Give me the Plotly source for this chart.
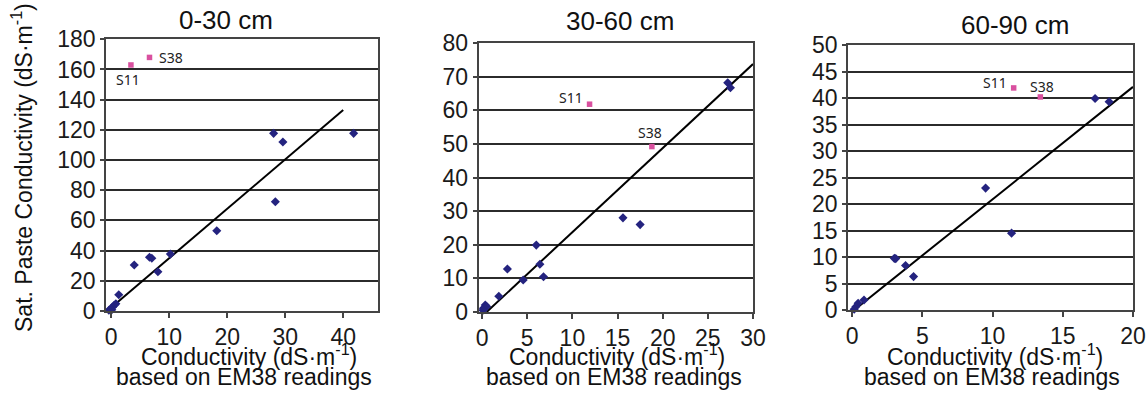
import plotly.graph_objects as go

# ---------------- data ----------------
panel_titles = ["0-30 cm", "30-60 cm", "60-90 cm"]

p1_blue_x = [28.0, 29.6, 41.8, 28.3, 18.2, 10.2, 6.6, 7.0, 8.05, 3.97, 1.3, 0.8, 0.5, 0.2, -0.1, -0.4, 0.1]
p1_blue_y = [117.7, 112, 117.7, 72.4, 53.2, 37.7, 35.6, 34.9, 26, 30.5, 10.8, 4.8, 3.8, 2.5, 1.4, 0.5, 0.8]
p1_pink_x = [3.4, 6.6]
p1_pink_y = [163, 168]
p1_fit = dict(slope=3.27, intercept=2.3, x0=-0.7, x1=40.0)

p2_blue_x = [27.2, 27.5, 15.6, 17.5, 6.0, 6.4, 6.8, 4.55, 2.8, 1.85, 0.35, 0.15, 0.5, 0.1]
p2_blue_y = [68.2, 66.7, 28, 26, 19.9, 14.2, 10.5, 9.5, 12.8, 4.7, 2.1, 1.1, 1.6, 0.5]
p2_pink_x = [11.9, 18.8]
p2_pink_y = [61.8, 49.2]
p2_fit = dict(slope=2.5, intercept=-1.25, x0=0.5, x1=30.0)

p3_blue_x = [17.3, 18.3, 9.5, 11.35, 3.0, 3.1, 3.8, 4.37, 0.84, 0.42, 0.26, 0.14]
p3_blue_y = [39.9, 39.3, 23, 14.5, 9.75, 9.7, 8.4, 6.3, 1.9, 1.26, 0.6, 0.13]
p3_pink_x = [11.5, 13.4]
p3_pink_y = [41.9, 40.2]
p3_fit = dict(slope=2.12, intercept=-0.3, x0=0.14, x1=20.0)

pink_labels = ["S11", "S38"]

x_ranges = [[-0.9, 46], [-0.4, 30], [-0.3, 20]]
x_dticks = [10, 5, 5]
y_ranges = [[0, 180], [0, 80], [0, 50]]
y_dticks = [20, 10, 5]

y_title = "Sat. Paste Conductivity (dS·m<sup>-1</sup>)"
x_title_1 = "Conductivity (dS·m<sup>-1</sup>)"
x_title_2 = "based on EM38 readings"

# ---------------- layout geometry (pixels) ----------------
W, H = 1146, 403
x_dom_px = [(106, 378), (478.5, 753), (848, 1133)]
y_dom_px = [(39.3, 311), (43, 312), (45, 310)]
title_pos_px = [(226, 20), (620, 21), (1015, 25)]
xt1_pos_px = [(249, 355), (617, 355), (995, 355)]
xt2_pos_px = [(244, 377), (614, 377), (992, 377)]
label_shifts = [[(-3, -15), (21, 0)], [(-19, 7), (-2, 14)], [(-19, 5), (2, 10)]]

FONT = "Liberation Sans, Arial, sans-serif"
BLUE = "#24237f"
PINK = "#d9509f"
GRID = "#2b2b2b"

panels = [
    (p1_blue_x, p1_blue_y, p1_pink_x, p1_pink_y, p1_fit),
    (p2_blue_x, p2_blue_y, p2_pink_x, p2_pink_y, p2_fit),
    (p3_blue_x, p3_blue_y, p3_pink_x, p3_pink_y, p3_fit),
]

fig = go.Figure()
annotations = []

for i, (bx, by, px, py, fit) in enumerate(panels):
    n = "" if i == 0 else str(i + 1)
    xa, ya = "x" + n, "y" + n
    # regression line
    lx = [fit["x0"], fit["x1"]]
    ly = [fit["slope"] * v + fit["intercept"] for v in lx]
    fig.add_trace(go.Scatter(x=lx, y=ly, mode="lines", line=dict(color="black", width=2),
                             xaxis=xa, yaxis=ya, showlegend=False, hoverinfo="skip"))
    fig.add_trace(go.Scatter(x=bx, y=by, mode="markers",
                             marker=dict(symbol="diamond", size=7, color=BLUE),
                             xaxis=xa, yaxis=ya, showlegend=False, cliponaxis=False))
    fig.add_trace(go.Scatter(x=px, y=py, mode="markers",
                             marker=dict(symbol="square", size=5.5, color=PINK),
                             xaxis=xa, yaxis=ya, showlegend=False, cliponaxis=False))
    for j, lab in enumerate(pink_labels):
        dx, dy = label_shifts[i][j]
        annotations.append(dict(x=px[j], y=py[j], xref=xa, yref=ya, text=lab, showarrow=False,
                                xshift=dx, yshift=dy,
                                font=dict(family="Noto Sans, Open Sans, sans-serif", size=14, color="#222")))
    x0p, x1p = x_dom_px[i]
    y0p, y1p = y_dom_px[i]
    axis_common = dict(showline=True, linecolor="#444", linewidth=1.5, mirror=True,
                       ticks="outside", tickcolor="#444", tickwidth=1.5, automargin=False,
                       tickfont=dict(family=FONT, size=23, color="#1a1a1a"), zeroline=False)
    fig.layout["xaxis" + n] = dict(domain=[x0p / W, x1p / W], range=x_ranges[i], dtick=x_dticks[i],
                                   tick0=0, showgrid=False, ticklen=5, anchor=ya, **axis_common)
    fig.layout["yaxis" + n] = dict(domain=[1 - y1p / H, 1 - y0p / H], range=y_ranges[i], dtick=y_dticks[i],
                                   tick0=0, showgrid=True, gridcolor=GRID, gridwidth=1.5, ticklen=4,
                                   anchor=xa, **axis_common)
    tx, ty = title_pos_px[i]
    annotations.append(dict(x=tx / W, y=1 - ty / H, xref="paper", yref="paper", text=panel_titles[i],
                            showarrow=False, xanchor="center", yanchor="middle",
                            font=dict(family=FONT, size=26, color="#111")))
    for (cx, cy), txt in ((xt1_pos_px[i], x_title_1), (xt2_pos_px[i], x_title_2)):
        annotations.append(dict(x=cx / W, y=1 - cy / H, xref="paper", yref="paper", text=txt,
                                showarrow=False, xanchor="center", yanchor="middle",
                                font=dict(family=FONT, size=23, color="#111")))

annotations.append(dict(x=22 / W, y=1 - 168 / H, xref="paper", yref="paper", text=y_title,
                        showarrow=False, textangle=-90, xanchor="center", yanchor="middle",
                        font=dict(family=FONT, size=23, color="#111")))

fig.update_layout(width=W, height=H, autosize=False,
                  margin=dict(l=0, r=0, t=0, b=0, pad=0, autoexpand=False),
                  showlegend=False,
                  paper_bgcolor="white", plot_bgcolor="white", annotations=annotations)

fig.write_html("out.html")
